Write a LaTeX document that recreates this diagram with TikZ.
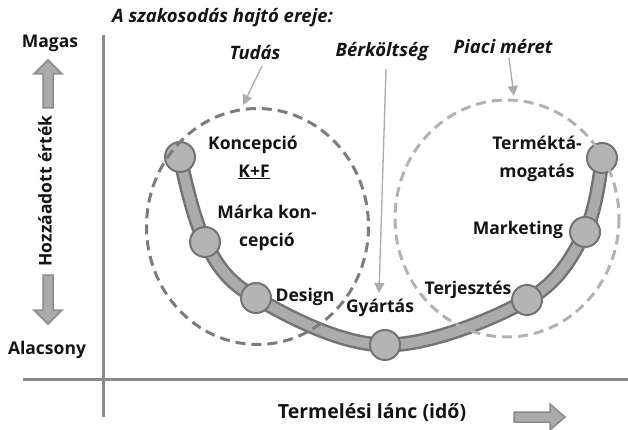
\documentclass[tikz,border=0pt]{standalone}
\usepackage{fontspec}
\setmainfont{Open Sans}
\usetikzlibrary{arrows.meta}
\definecolor{axisgray}{HTML}{8A8A8A}
\definecolor{tubedark}{HTML}{737373}
\definecolor{tubelight}{HTML}{ABABAB}
\definecolor{dotfill}{HTML}{B4B4B4}
\definecolor{dashdark}{HTML}{7C7C7C}
\definecolor{dashlight}{HTML}{B2B2B2}
\definecolor{pointer}{HTML}{ABABAB}
\definecolor{txt}{HTML}{141414}
\tikzset{
  axisline/.style={draw=axisgray, line width=3pt},
  stage/.style={circle, minimum size=30pt, inner sep=0pt, fill=dotfill, draw=tubedark, line width=2pt},
  lbl/.style={font=\fontsize{17.5}{28}\selectfont\bfseries, text=txt, inner sep=0pt, align=center},
  drv/.style={font=\fontsize{18.5}{20}\selectfont\bfseries\itshape, text=txt, inner sep=0pt},
  pointerline/.style={draw=pointer, line width=1.3pt, -{Triangle[length=10pt,width=10pt]}},
  blockarrow/.style={fill=tubelight, draw=axisgray, line width=1.5pt, line join=miter},
  knowcircle/.style={draw=dashdark, line width=3pt, dash pattern=on 10pt off 6pt},
  marketcircle/.style={draw=dashlight, line width=3pt, dash pattern=on 10pt off 6pt}
}
\begin{document}
\begin{tikzpicture}[x=1pt,y=-1pt]
\useasboundingbox (0,0) rectangle (628,430);
% axes
\draw[axisline] (103,35) -- (103,417);
\draw[axisline] (23,379) -- (628,379);
% stage positions
\coordinate (c1) at (180,157);
\coordinate (c2) at (205,242);
\coordinate (c3) at (256,298);
\coordinate (c4) at (385,345);
\coordinate (c5) at (527,300);
\coordinate (c6) at (585,232);
\coordinate (c7) at (602,158);
% tube
\draw[tubedark, line width=15pt, line cap=butt] plot[smooth, tension=0.6] coordinates {(c1) (c2) (c3) (c4) (c5) (c6) (c7)};
\draw[tubelight, line width=10pt, line cap=butt] plot[smooth, tension=0.6] coordinates {(c1) (c2) (c3) (c4) (c5) (c6) (c7)};
% stage points
\node[stage] (p1) at (c1) {};
\node[stage] (p2) at (c2) {};
\node[stage] (p3) at (c3) {};
\node[stage] (p4) at (c4) {};
\node[stage] (p5) at (c5) {};
\node[stage] (p6) at (c6) {};
\node[stage] (p7) at (c7) {};
% dashed circles
\draw[knowcircle] (257.5,226.5) ellipse [x radius=111, y radius=118];
\draw[marketcircle] (507,218.5) ellipse [x radius=112, y radius=118.5];
% title and drivers
\node[drv, anchor=west] (title) at (112,18) {A szakosodás hajtó ereje:};
\node[drv] (tudas) at (255,53) {Tudás};
\node[drv] (berk) at (382,52) {Bérköltség};
\node[drv] (piaci) at (503,47) {Piaci méret};
\coordinate (tudasS) at (262,66);
\coordinate (tudasE) at (243,105);
\coordinate (berkS) at (386,69);
\coordinate (berkE) at (379,293);
\coordinate (piaciS) at (509,58);
\coordinate (piaciE) at (514,96);
\draw[pointerline] (tudasS) -- (tudasE);
\draw[pointerline] (berkS) -- (berkE);
\draw[pointerline] (piaciS) -- (piaciE);
% stage labels
\node[lbl] (koncepcio) at (253,145) {Koncepció};
\node[lbl] (kf) at (254,172) {\underline{K+F}};
\node[lbl] (marka) at (267,228) {Márka kon-\\cepció};
\node[lbl] (design) at (305,297) {Design};
\node[lbl] (gyartas) at (380,308) {Gyártás};
\node[lbl] (terj) at (468,290) {Terjesztés};
\node[lbl] (mark) at (518,230) {Marketing};
\node[lbl] (termek) at (537,159) {Terméktá-\\mogatás};
% axis labels
\node[lbl] (magas) at (50,43) {Magas};
\node[lbl] (alacsony) at (47,350) {Alacsony};
\node[lbl, rotate=90] (hozza) at (45,191) {Hozzáadott érték};
\node[lbl, font=\fontsize{19.5}{22}\selectfont\bfseries] (lanc) at (372,413) {Termelési lánc (idő)};
% block arrows
\draw[blockarrow] (43,108) -- (43,74) -- (34,74) -- (48,60) -- (62,74) -- (53,74) -- (53,108) -- cycle;
\draw[blockarrow] (43,275) -- (43,310) -- (34,310) -- (48,324) -- (62,310) -- (53,310) -- (53,275) -- cycle;
\draw[blockarrow] (514,412) -- (550,412) -- (550,404) -- (565,417) -- (550,430) -- (550,422) -- (514,422) -- cycle;
\end{tikzpicture}
\end{document}
